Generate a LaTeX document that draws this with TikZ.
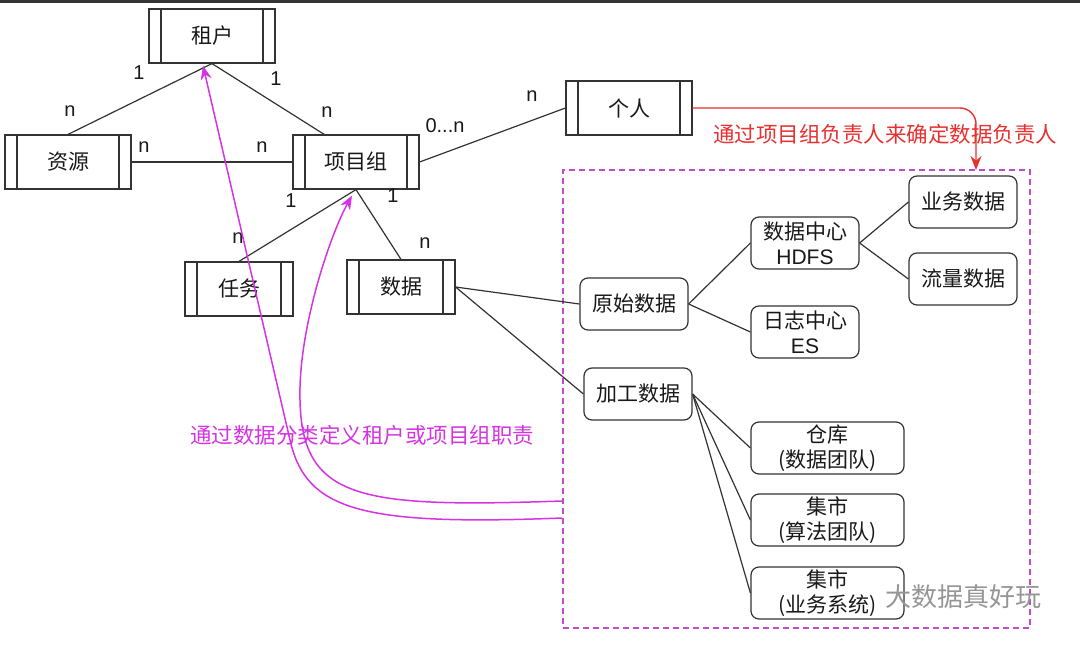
\documentclass[tikz,border=0pt]{standalone}
\usepackage{fontspec}
\setmainfont{Liberation Sans}
\newfontfamily\cjk{Noto Sans CJK SC}
\usepackage{tikz}
\usetikzlibrary{arrows.meta,calc}
\definecolor{linegray}{RGB}{51,51,51}
\definecolor{textdark}{RGB}{25,25,25}
\definecolor{noteRed}{RGB}{232,48,48}
\definecolor{noteMag}{RGB}{214,52,226}
\definecolor{frameMag}{RGB}{196,74,204}
\definecolor{markgray}{RGB}{150,150,150}

\tikzset{
    entity/.style={
        draw=linegray,
        line width=1.2pt,
        minimum width=126pt,
        minimum height=54pt,
        inner sep=0pt,
        text=textdark,
        font=\cjk\fontsize{21}{25}\selectfont,
        path picture={
            \draw[linegray, line width=1.2pt]
                ([xshift=12pt]path picture bounding box.north west) -- ([xshift=12pt]path picture bounding box.south west)
                ([xshift=-12pt]path picture bounding box.north east) -- ([xshift=-12pt]path picture bounding box.south east);
        }
    },
    card/.style={
        draw=linegray,
        line width=1.2pt,
        rounded corners=8pt,
        minimum width=108pt,
        minimum height=52pt,
        inner sep=0pt,
        align=center,
        text=textdark,
        font=\cjk\fontsize{21}{25}\selectfont
    },
    mult/.style={inner sep=0pt, text=textdark, font=\fontsize{20}{24}\selectfont},
    link/.style={linegray, line width=1.2pt},
    note/.style={inner sep=0pt, anchor=west, font=\cjk\fontsize{21.5}{25}\selectfont},
    redflow/.style={noteRed, line width=1.4pt, rounded corners=16pt, -{Stealth[length=14pt,width=11pt]}},
    hint/.style={noteMag, line width=1.5pt, -{Stealth[length=14pt,width=11pt]}}
}

\begin{document}
\begin{tikzpicture}[x=1pt, y=-1pt]
    \fill[white] (0,0) rectangle (1080,645);
    \useasboundingbox (0,0) rectangle (1080,645);
    \fill[black!80] (0,0) rectangle (1080,3);

    % data group frame
    \node[draw=frameMag, line width=1.2pt, dash pattern=on 6pt off 4pt,
          minimum width=467pt, minimum height=458pt] (grp) at (796.5,399) {};

    % entities
    \node[entity] (zh) at (212,36) {租户};
    \node[entity] (zy) at (68,162) {资源};
    \node[entity] (xmz) at (356,162) {项目组};
    \node[entity, minimum width=108pt] (rw) at (239,289) {任务};
    \node[entity, minimum width=108pt] (sj) at (401,287) {数据};
    \node[entity] (gr) at (629,108) {个人};

    % data categories
    \node[card] (yssj) at (634,304) {原始数据};
    \node[card] (jgsj) at (638,394) {加工数据};
    \node[card] (hdfs) at (805,243) {数据中心\\{\rmfamily HDFS}};
    \node[card] (es) at (805,332) {日志中心\\{\rmfamily ES}};
    \node[card] (ywsj) at (963,202) {业务数据};
    \node[card] (llsj) at (963,279) {流量数据};
    \node[card, minimum width=153pt] (ck) at (827.5,448) {仓库\\(数据团队)};
    \node[card, minimum width=153pt] (sfjs) at (827.5,520) {集市\\(算法团队)};
    \node[card, minimum width=153pt] (ywxt) at (827.5,593) {集市\\(业务系统)};

    % relations
    \draw[link] (zh.south) -- (zy.north);
    \draw[link] (zh.south) -- ($(xmz.north west)!0.25!(xmz.north east)$);
    \draw[link] (zy.east) -- (xmz.west);
    \draw[link] (xmz.south) -- (rw.north);
    \draw[link] (xmz.south) -- (sj.north);
    \draw[link] (xmz.east) -- (gr.west);
    \draw[link] (sj.east) -- (yssj.west);
    \draw[link] (sj.east) -- (jgsj.west);
    \draw[link] (yssj.east) -- (hdfs.west);
    \draw[link] (yssj.east) -- (es.west);
    \draw[link] (hdfs.east) -- (ywsj.west);
    \draw[link] (hdfs.east) -- (llsj.west);
    \draw[link] (jgsj.east) -- (ck.west);
    \draw[link] (jgsj.east) -- (sfjs.west);
    \draw[link] (jgsj.east) -- (ywxt.west);

    % multiplicities
    \node[mult] (m1) at (139,73) {1};
    \node[mult] (m2) at (70,111) {n};
    \node[mult] (m3) at (276,79) {1};
    \node[mult] (m4) at (327,112) {n};
    \node[mult] (m5) at (144,147) {n};
    \node[mult] (m6) at (262,147) {n};
    \node[mult] (m7) at (291,201) {1};
    \node[mult] (m8) at (238,238) {n};
    \node[mult] (m9) at (393,196) {1};
    \node[mult] (m10) at (425,243) {n};
    \node[mult] (m11) at (445,126) {0...n};
    \node[mult] (m12) at (532,96) {n};

    % owner of the data
    \coordinate (redtip) at (976,170);
    \draw[redflow] (gr.east) -| (redtip);
    \node[note, text=noteRed] (rednote) at (713,134) {通过项目组负责人来确定数据负责人};

    % classification back to tenant / project group
    \coordinate (tailA) at (562,518);
    \coordinate (tailB) at (562,501);
    \draw[hint] (tailA) .. controls (360,526) and (306,510) .. (290,440)
        -- ([xshift=-9pt, yshift=-2pt]zh.south);
    \draw[hint] (tailB) .. controls (360,508) and (302,500) .. (300,400)
        .. controls (298,330) and (330,235) .. ([xshift=-4pt, yshift=-6pt]xmz.south);
    \node[note, text=noteMag] (magnote) at (190,435) {通过数据分类定义租户或项目组职责};

    \node[inner sep=0pt, anchor=west, text=markgray, font=\cjk\fontsize{26}{30}\selectfont] (mark) at (885,597) {大数据真好玩};
\end{tikzpicture}
\end{document}
